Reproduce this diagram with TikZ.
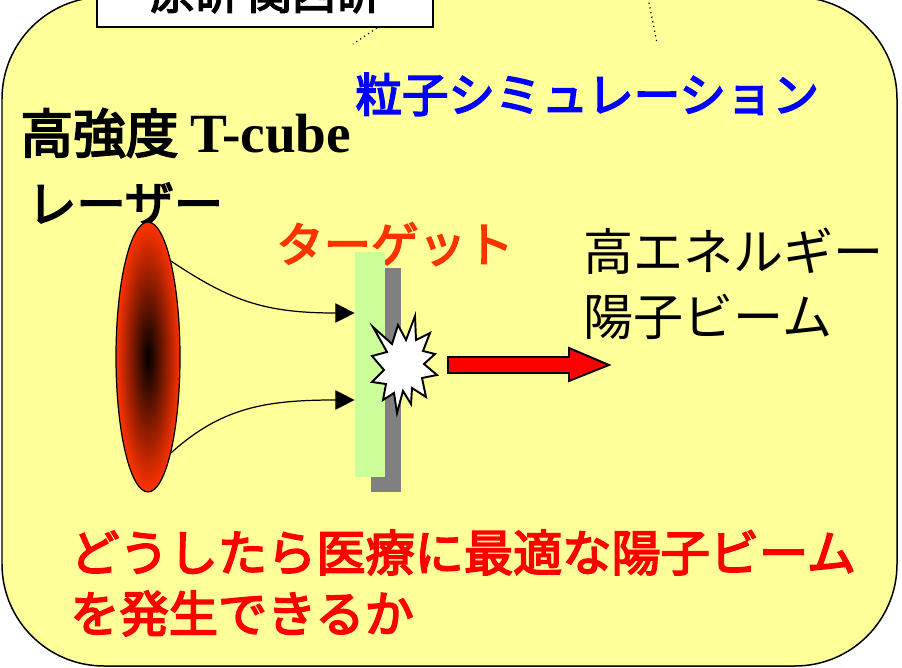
\documentclass[tikz,border=0pt]{standalone}
\usepackage{fontspec}
\usetikzlibrary{positioning,arrows.meta,shapes.geometric}
\newfontfamily\gothic{Noto Sans CJK JP}
\newfontfamily\gothicb{Noto Sans CJK JP}[FakeBold=3.5]
\newfontfamily\latinserif{Liberation Serif}
\definecolor{bgyellow}{RGB}{255,255,153}
\definecolor{laserred}{RGB}{255,51,0}
\definecolor{foilgreen}{RGB}{204,255,153}
\definecolor{foilgray}{RGB}{128,128,128}
\definecolor{simblue}{RGB}{0,0,255}
\definecolor{qred}{RGB}{255,0,0}
\tikzset{
  jtext/.style={inner sep=0pt, anchor=base west, font=\gothic\fontsize{28.5pt}{34pt}\selectfont},
  jbold/.style={inner sep=0pt, anchor=base west, font=\gothicb\fontsize{28pt}{34pt}\selectfont},
  beam/.style={draw=black, line width=0.7pt, -{Triangle[length=11pt,width=11pt]}},
  foil/.style={inner sep=0pt, minimum width=0.6cm},
  outline/.style={draw=black, line width=1.1pt, line join=miter}
}

\begin{document}
\begin{tikzpicture}[x=0.02cm, y=-0.02cm]
  \useasboundingbox (0,0) rectangle (902,668);
  \draw[fill=bgyellow, line width=0.85pt, rounded corners=2.04cm] (2,-3) rectangle (897,666);

  \node[draw, fill=white, line width=0.9pt, minimum width=6.72cm, minimum height=1.34cm,
        font=\gothicb\fontsize{25pt}{30pt}\selectfont] (lab) at (265,-6.5) {原研 関西研};
  \coordinate (tail1) at (377,28);
  \coordinate (tip1) at (353,44);
  \coordinate (tail2) at (648,-2);
  \coordinate (tip2) at (657,43);
  \draw[dotted, line width=0.7pt] (tail1) -- (tip1);
  \draw[dotted, line width=0.7pt] (tail2) -- (tip2);

  \node[jbold, text=simblue, font=\gothicb\fontsize{26.5pt}{32pt}\selectfont] (sim) at (355,112) {粒子シミュレーション};
  \node[jbold, font=\gothicb\fontsize{30pt}{34pt}\selectfont] (laserlbl) at (20,153) {高強度 {\latinserif\bfseries\fontsize{31.5pt}{34pt}\selectfont T-cube}};
  \node[jbold] (laserlbl2) at (27,222) {レーザー};
  \node[jbold, text=laserred, font=\gothicb\fontsize{27pt}{32pt}\selectfont] (targetlbl) at (276,262) {ターゲット};
  \node[jtext] (beamlbl) at (583,271) {高エネルギー};
  \node[jtext] (beamlbl2) at (583,336) {陽子ビーム};
  \node[jbold, text=qred] (question) at (70,571) {どうしたら医療に最適な陽子ビーム};
  \node[jbold, text=qred] (question2) at (70,632) {を発生できるか};

  % target foil with its backing
  \node[foil, fill=foilgray, minimum height=4.48cm] (backing) at (386,380) {};
  \node[foil, fill=foilgreen, minimum height=4.5cm] (target) at (370,364.5) {};

  \node[ellipse, draw=black, line width=0.7pt, minimum width=1.28cm, minimum height=5.4cm,
        inner sep=0pt, shading=radial, inner color=black, outer color=laserred] (laser) at (148,357) {};

  \draw[beam] (laser.north east) .. controls +(60,40) and +(-90,0) .. ([yshift=1.03cm]target.west);
  \draw[beam] (laser.south east) .. controls +(50,-45) and +(-90,0) .. ([yshift=-0.71cm]target.west);

  % burst on the rear side
  \draw[outline, fill=white] (373,327) -- (392,344) -- (398,325) -- (406,340) -- (415,316) -- (416,340)
    -- (430,333) -- (423,351) -- (435,354) -- (424,364) -- (437,375) -- (422,378) -- (426,397)
    -- (412,388) -- (411,404) -- (403,391) -- (397,413) -- (394,393) -- (383,400) -- (386,384)
    -- (372,382) -- (384,370) -- (372,356) -- (387,352) -- cycle;

  % proton beam
  \draw[outline, fill=qred] (448,357) -- (569,357) -- (569,348) -- (609,365) -- (569,381)
    -- (569,373) -- (448,373) -- cycle;
\end{tikzpicture}
\end{document}
